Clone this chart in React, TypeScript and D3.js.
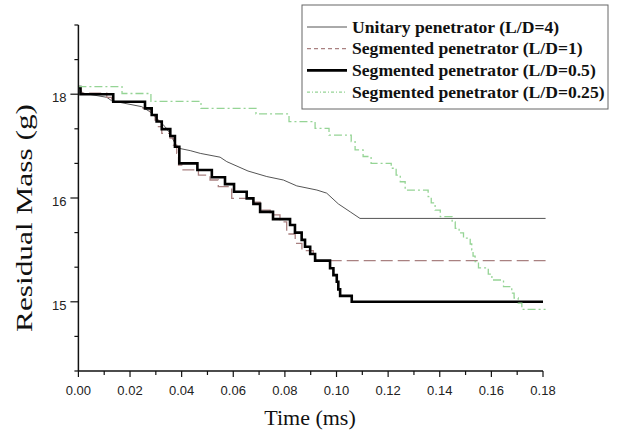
import React from "react";
import * as d3 from "d3";

// time in ms; mass in the axis' own tick units (0 = bottom tick, 10 = top tick)
const unitaryT = [0, 0.0017, 0.011, 0.0129, 0.0245, 0.0278, 0.0303, 0.0336, 0.0355, 0.0374, 0.0387, 0.0433, 0.0472, 0.0549, 0.0575, 0.0657, 0.073, 0.0794, 0.0846, 0.0924, 0.0962, 0.1007, 0.1053, 0.1091, 0.181];
const unitaryM = [8.21, 8.03, 7.91, 7.81, 7.64, 7.49, 7.3, 7.06, 6.87, 6.58, 6.44, 6.37, 6.29, 6.18, 6.05, 5.78, 5.62, 5.52, 5.35, 5.23, 5.14, 4.83, 4.6, 4.41, 4.41];

const seg1T = [0, 0.001, 0.011, 0.0129, 0.025, 0.0278, 0.0297, 0.031, 0.0323, 0.0355, 0.0368, 0.0381, 0.0388, 0.0402, 0.0465, 0.051, 0.0542, 0.0594, 0.0665, 0.0704, 0.0743, 0.0781, 0.0807, 0.084, 0.0866, 0.091, 0.0919, 0.181];
const seg1M = [8.21, 8.03, 7.91, 7.78, 7.6, 7.4, 7.25, 7.06, 6.87, 6.73, 6.53, 6.29, 5.95, 5.81, 5.66, 5.52, 5.33, 4.99, 4.88, 4.65, 4.51, 4.31, 3.96, 3.69, 3.48, 3.3, 3.19, 3.19];

const seg05T = [0, 0.0008, 0.0135, 0.0258, 0.0284, 0.0303, 0.0323, 0.0356, 0.0374, 0.0391, 0.0461, 0.0517, 0.0568, 0.0603, 0.0652, 0.0678, 0.0704, 0.0754, 0.082, 0.0839, 0.0865, 0.0878, 0.0898, 0.0917, 0.0975, 0.0988, 0.1001, 0.1007, 0.1014, 0.1059, 0.18];
const seg05M = [8.21, 8.0, 7.78, 7.59, 7.4, 7.21, 6.99, 6.79, 6.48, 6.0, 5.81, 5.6, 5.4, 5.18, 4.99, 4.83, 4.6, 4.39, 4.22, 4.0, 3.79, 3.59, 3.38, 3.19, 2.97, 2.77, 2.58, 2.36, 2.17, 2.0, 2.0];

const seg025T = [0, 0.0169, 0.0281, 0.0475, 0.0688, 0.0816, 0.0917, 0.0971, 0.1057, 0.1072, 0.1103, 0.1134, 0.1212, 0.1231, 0.1247, 0.1266, 0.1355, 0.1367, 0.1382, 0.1402, 0.1448, 0.146, 0.1475, 0.1492, 0.1518, 0.1524, 0.1529, 0.1537, 0.155, 0.1588, 0.1602, 0.1647, 0.1679, 0.1688, 0.1704, 0.1718, 0.181];
const seg025M = [8.22, 8.02, 7.79, 7.59, 7.43, 7.21, 7.01, 6.82, 6.63, 6.39, 6.2, 6.0, 5.86, 5.66, 5.47, 5.23, 5.04, 4.86, 4.65, 4.46, 4.31, 4.12, 3.99, 3.84, 3.67, 3.5, 3.32, 3.16, 2.98, 2.8, 2.63, 2.44, 2.25, 2.11, 1.96, 1.78, 1.78];

const seriesNames = [
  "Unitary penetrator (L/D=4)",
  "Segmented penetrator (L/D=1)",
  "Segmented penetrator (L/D=0.5)",
  "Segmented penetrator (L/D=0.25)",
];

const xMinorTicks = [0, 0.01, 0.02, 0.03, 0.04, 0.05, 0.06, 0.07, 0.08, 0.09, 0.1, 0.11, 0.12, 0.13, 0.14, 0.15, 0.16, 0.17, 0.18];
const xMajorTicks = [0, 0.02, 0.04, 0.06, 0.08, 0.1, 0.12, 0.14, 0.16, 0.18];
const yMinorTicks = [0, 1, 2, 3, 4, 5, 6, 7, 8, 9, 10];
const yLabelTicks = [2, 5, 8];
const yLabelTexts = ["15", "16", "18"];

const W = 619;
const H = 432;
const serif = "'Liberation Serif', 'Times New Roman', serif";
const sans = "'Liberation Sans', Arial, sans-serif";

export default function App() {
  const x = d3.scaleLinear().domain([0, 0.18]).range([78.4, 543]);
  const y = d3.scaleLinear().domain([0, 10]).range([371, 25]);

  const zip = (ts: number[], ms: number[]) => ts.map((t, i) => [t, ms[i]] as [number, number]);
  const step = d3.line<[number, number]>().x((d) => x(d[0])).y((d) => y(d[1])).curve(d3.curveStepAfter);
  const lin = d3.line<[number, number]>().x((d) => x(d[0])).y((d) => y(d[1]));

  const series = [
    { d: lin(zip(unitaryT, unitaryM)), stroke: "#555", sw: 1, dash: "none" },
    { d: step(zip(seg1T, seg1M)), stroke: "#a98181", sw: 1.3, dash: "12 5" },
    { d: step(zip(seg05T, seg05M)), stroke: "#000", sw: 2.6, dash: "none" },
    { d: step(zip(seg025T, seg025M)), stroke: "#95d495", sw: 1.3, dash: "8 3 2 3" },
  ];
  const legendDash = ["none", "4 3", "none", "3 2 1 2"];

  const x0 = x(0);
  const yb = y(0);

  return (
    <svg
      width={W}
      height={H}
      style={{ position: "absolute", left: 0, top: 0, background: "#fff" }}
    >
      {/* data */}
      {series.map((s, i) => (
        <path
          key={i}
          d={s.d || ""}
          fill="none"
          stroke={s.stroke}
          strokeWidth={s.sw}
          strokeDasharray={s.dash}
        />
      ))}

      {/* axes */}
      <line x1={x0} x2={x0} y1={y(10)} y2={yb} stroke="#111" strokeWidth={1.5} />
      <line x1={x0} x2={x(0.18)} y1={yb} y2={yb} stroke="#111" strokeWidth={1.5} />
      {yMinorTicks.map((v) => (
        <line
          key={"ym" + v}
          x1={x0 - (yLabelTicks.includes(v) ? 8 : 4)}
          x2={x0}
          y1={y(v)}
          y2={y(v)}
          stroke="#111"
          strokeWidth={1.2}
        />
      ))}
      {yLabelTicks.map((v, i) => (
        <text
          key={"yl" + v}
          x={x0 - 12}
          y={y(v) + 8}
          textAnchor="end"
          fontFamily={sans}
          fontSize={13}
          fill="#222"
        >
          {yLabelTexts[i]}
        </text>
      ))}
      {xMinorTicks.map((v) => (
        <line
          key={"xm" + v}
          x1={x(v)}
          x2={x(v)}
          y1={yb}
          y2={yb + (xMajorTicks.includes(v) ? 6 : 4)}
          stroke="#111"
          strokeWidth={1.2}
        />
      ))}
      {xMajorTicks.map((v) => (
        <text
          key={"xl" + v}
          x={x(v)}
          y={yb + 24}
          textAnchor="middle"
          fontFamily={sans}
          fontSize={13}
          fill="#222"
        >
          {v.toFixed(2)}
        </text>
      ))}

      {/* axis titles */}
      <text
        x={310}
        y={425}
        textAnchor="middle"
        fontFamily={serif}
        fontSize={22}
        fill="#111"
      >
        Time (ms)
      </text>
      <text
        transform="translate(32,218) rotate(-90)"
        textAnchor="middle"
        fontFamily={serif}
        fontSize={24}
        fill="#111"
        textLength={228}
        lengthAdjust="spacingAndGlyphs"
      >
        Residual Mass (g)
      </text>

      {/* legend */}
      <rect x={302} y={5} width={306} height={104} fill="#fff" stroke="#666" strokeWidth={1} />
      {seriesNames.map((name, i) => {
        const cy = 27 + i * 21.7;
        return (
          <g key={name}>
            <line
              x1={307}
              x2={347}
              y1={cy}
              y2={cy}
              stroke={series[i].stroke}
              strokeWidth={series[i].sw}
              strokeDasharray={legendDash[i]}
            />
            <text
              x={352}
              y={cy + 5.5}
              fontFamily={serif}
              fontWeight="bold"
              fontSize={17.6}
              fill="#111"
            >
              {name}
            </text>
          </g>
        );
      })}
    </svg>
  );
}
